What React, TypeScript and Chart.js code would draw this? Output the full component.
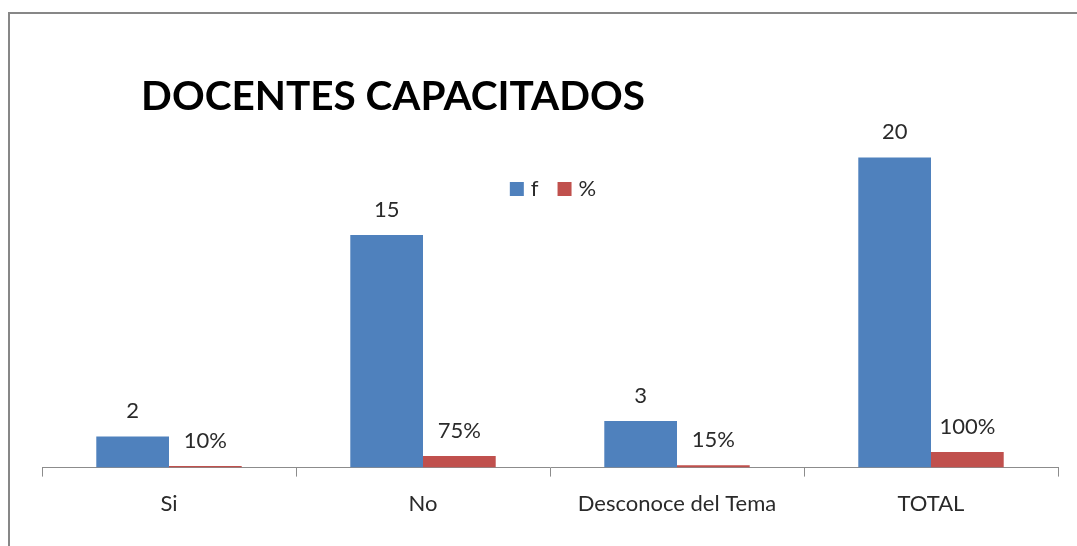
import React, { useEffect, useRef } from "react";
import { Chart, registerables } from "chart.js";

Chart.register(...registerables);

const categories = ["Si", "No", "Desconoce del Tema", "TOTAL"];
const frecuencia = [2, 15, 3, 20];
const porcentaje = [0.1, 0.75, 0.15, 1.0];
const seriesLabels = ["f", "%"];
const seriesColors = ["#4F81BD", "#C0504D"];
const titleText = "DOCENTES CAPACITADOS";

const FONT = "Lato, 'Open Sans', sans-serif";
const TEXT_COLOR = "#2a2a2a";
const LABEL_SIZE = 22;

const decorPlugin = {
  id: "decor",
  beforeDraw(chart: any) {
    const ctx = chart.ctx;
    ctx.save();
    ctx.fillStyle = "#ffffff";
    ctx.fillRect(0, 0, chart.width, chart.height);
    ctx.strokeStyle = "#878787";
    ctx.lineWidth = 2;
    ctx.strokeRect(9, 13, chart.width + 40, chart.height + 40);
    ctx.restore();
  },
  afterDatasetsDraw(chart: any) {
    const ctx = chart.ctx;
    ctx.save();
    // data labels
    ctx.font = `${LABEL_SIZE}px ${FONT}`;
    ctx.fillStyle = TEXT_COLOR;
    ctx.textAlign = "center";
    ctx.textBaseline = "middle";
    chart.data.datasets.forEach((ds: any, di: number) => {
      const meta = chart.getDatasetMeta(di);
      meta.data.forEach((bar: any, i: number) => {
        const v = ds.data[i];
        const txt = di === 0 ? String(v) : `${Math.round(v * 100)}%`;
        ctx.fillText(txt, bar.x, bar.y - 25.5);
      });
    });
    // title
    ctx.font = `bold 40.5px ${FONT}`;
    ctx.fillStyle = "#000000";
    ctx.fillText(titleText, 393, 97);
    // legend
    ctx.font = `${LABEL_SIZE}px ${FONT}`;
    const box = 14;
    const gapText = 7;
    const gapItem = 19;
    const widths = chart.data.datasets.map((d: any) => ctx.measureText(d.label).width);
    let total = 0;
    widths.forEach((w: number, i: number) => {
      total += box + gapText + w + (i < widths.length - 1 ? gapItem : 0);
    });
    let x = 553 - total / 2;
    const cy = 189;
    ctx.textAlign = "left";
    chart.data.datasets.forEach((d: any, i: number) => {
      ctx.fillStyle = d.backgroundColor;
      ctx.fillRect(x, cy - box / 2, box, box);
      x += box + gapText;
      ctx.fillStyle = TEXT_COLOR;
      ctx.fillText(d.label, x, cy);
      x += widths[i] + gapItem;
    });
    ctx.restore();
  },
};

export default function App() {
  const ref = useRef<HTMLCanvasElement | null>(null);
  useEffect(() => {
    if (!ref.current) return;
    const chart = new Chart(ref.current, {
      type: "bar",
      data: {
        labels: categories,
        datasets: [
          { label: seriesLabels[0], data: frecuencia, backgroundColor: seriesColors[0] },
          { label: seriesLabels[1], data: porcentaje, backgroundColor: seriesColors[1] },
        ],
      },
      options: {
        animation: false,
        responsive: true,
        maintainAspectRatio: false,
        layout: { padding: { left: 42, right: 19, top: 80, bottom: 15 } },
        datasets: {
          bar: { categoryPercentage: 0.5725, barPercentage: 1 },
        },
        plugins: {
          legend: { display: false },
          title: { display: false },
          tooltip: { enabled: false },
        },
        scales: {
          x: {
            grid: {
              offset: true,
              drawOnChartArea: false,
              drawTicks: true,
              tickLength: 9,
              color: "#8c8c8c",
            },
            border: { display: true, color: "#8c8c8c", width: 1 },
            ticks: {
              color: TEXT_COLOR,
              font: { family: FONT, size: LABEL_SIZE },
              padding: 14,
              maxRotation: 0,
              autoSkip: false,
            },
          },
          y: { display: false, min: 0, max: 25 },
        },
      },
      plugins: [decorPlugin],
    });
    return () => chart.destroy();
  }, []);
  return (
    <div style={{ position: "fixed", left: 0, top: 0, width: 1077, height: 546 }}>
      <canvas ref={ref} />
    </div>
  );
}
